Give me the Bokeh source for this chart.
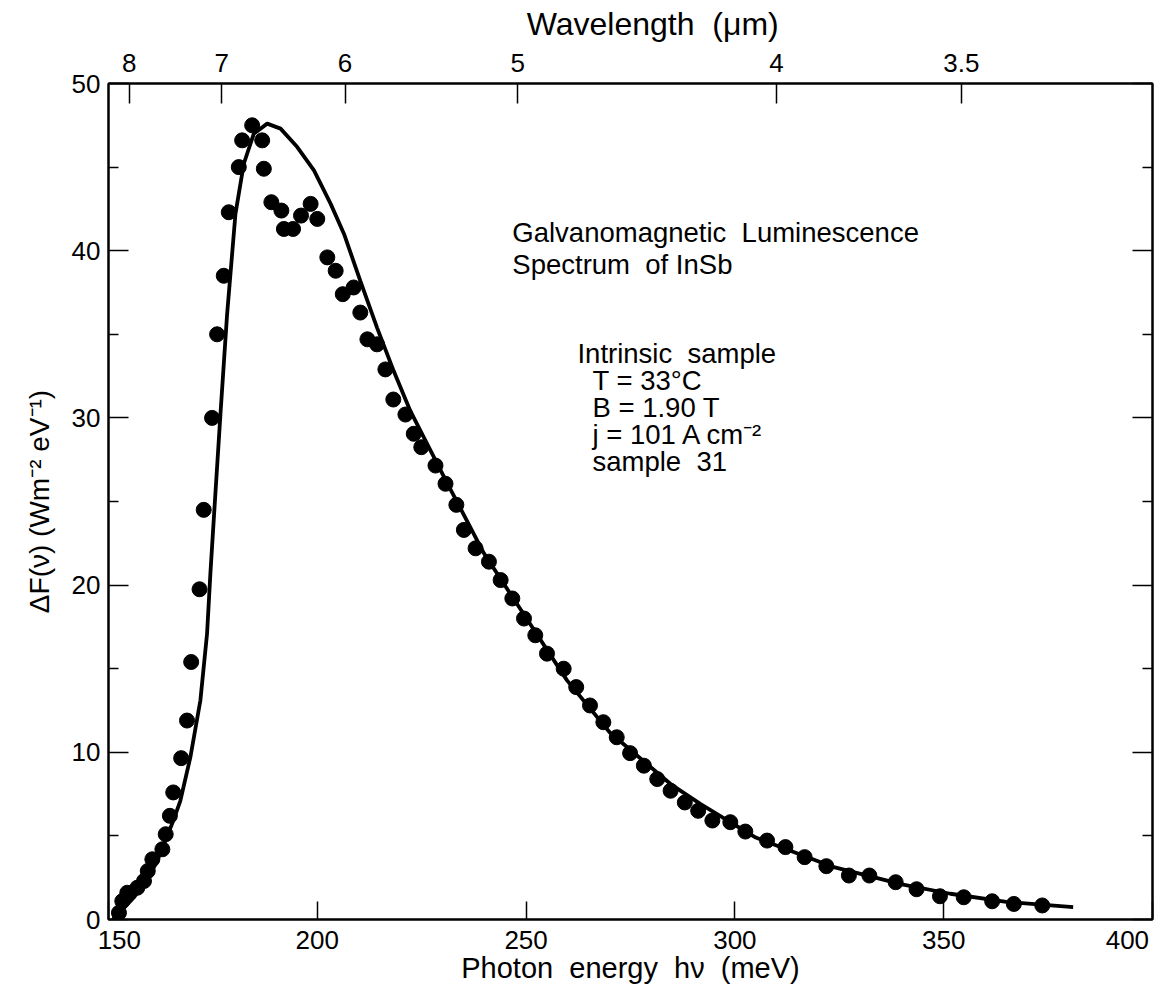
from bokeh.plotting import figure
from bokeh.models import (LinearAxis, FixedTicker, Label, CustomJSTickFormatter, Range1d)
from bokeh.embed import file_html
from bokeh.resources import INLINE

# ---------------- data ----------------
# measured points: photon energy (meV) and Delta F (W m^-2 eV^-1)
energy_pts = [152.5, 153.3, 154.5, 156.9, 158.5, 159.4, 160.5, 162.9, 163.7, 164.7,
              165.5, 167.4, 168.8, 169.8, 171.8, 172.8, 174.8, 176.0, 177.6, 178.8,
              181.2, 182.0, 184.4, 186.8, 187.2, 189.0, 191.4, 192.0, 194.2, 196.1,
              198.4, 200.0, 202.4, 204.4, 206.1, 208.7, 210.3, 212.0, 214.3, 216.3,
              218.2, 221.1, 223.1, 224.9, 228.3, 230.7, 233.3, 235.1, 237.9, 241.1,
              243.9, 246.7, 249.5, 252.2, 255.0, 259.0, 262.0, 265.3, 268.5, 271.7,
              274.9, 278.2, 281.4, 284.6, 288.0, 291.2, 294.6, 298.9, 302.5, 307.7,
              312.1, 316.7, 321.9, 327.3, 332.2, 338.5, 343.5, 349.1, 354.8, 361.6,
              366.8, 373.6]
flux_pts = [0.4, 1.1, 1.6, 1.9, 2.3, 2.9, 3.6, 4.2, 5.1, 6.2,
            7.6, 9.65, 11.9, 15.4, 19.75, 24.5, 30.0, 35.0, 38.5, 42.3,
            45.0, 46.6, 47.5, 46.6, 44.9, 42.9, 42.4, 41.3, 41.3, 42.1,
            42.8, 41.9, 39.6, 38.8, 37.4, 37.8, 36.3, 34.7, 34.4, 32.9,
            31.1, 30.2, 29.05, 28.25, 27.15, 26.06, 24.8, 23.3, 22.2, 21.4,
            20.3, 19.2, 18.0, 17.0, 15.9, 15.0, 13.9, 12.8, 11.8, 10.9,
            9.95, 9.2, 8.4, 7.7, 7.0, 6.5, 5.92, 5.82, 5.26, 4.72,
            4.33, 3.73, 3.19, 2.63, 2.63, 2.23, 1.81, 1.39, 1.33, 1.09,
            0.93, 0.84]

# theoretical curve
energy_fit = [151.0, 153.0, 156.0, 159.0, 161.5, 163.6, 165.5, 167.2, 169.6, 172.0,
              173.6, 174.4, 175.3, 176.8, 178.4, 180.4, 182.4, 184.8, 188.0, 191.2,
              195.2, 199.2, 203.2, 206.4, 210.3, 214.3, 218.3, 222.3, 230.7, 239.9,
              246.7, 259.8, 270.0, 284.6, 291.8, 305.0, 323.7, 340.0, 351.6, 365.0,
              381.0]
flux_fit = [0.0, 0.5, 1.3, 2.3, 3.4, 4.7, 5.9, 7.1, 9.7, 13.1,
            17.1, 20.7, 24.3, 30.2, 36.2, 42.2, 45.2, 47.0, 47.6, 47.3,
            46.2, 44.8, 42.8, 41.0, 38.2, 35.4, 32.8, 30.4, 26.3, 21.9,
            19.3, 14.3, 11.2, 8.1, 6.9, 4.9, 3.13, 2.1, 1.54, 1.05,
            0.74]

x_ticks = [150, 200, 250, 300, 350, 400]
y_major = [0, 10, 20, 30, 40, 50]
y_minor = [5, 15, 25, 35, 45]
wavelength_ticks = [8, 7, 6, 5, 4, 3.5]      # micrometres
wavelength_labels = ["8", "7", "6", "5", "4", "3.5"]
HC = 1239.84  # meV * um

NB = "\u00a0"  # non-collapsing space: keeps the wide word spacing of the original
annotation_lines = ["Galvanomagnetic" + NB + " Luminescence", "Spectrum" + NB + " of InSb"]
condition_lines = ["Intrinsic" + NB + " sample", "T = 33°C", "B = 1.90 T",
                   "j = 101 A cm\u207b\u00b2", "sample" + NB + " 31"]

FONT = "Liberation Sans"
TICK_SIZE = "26px"

# ---------------- figure ----------------
p = figure(width=1163, height=991, output_backend="svg", toolbar_location=None,
           x_range=Range1d(150, 400), y_range=Range1d(0, 50),
           min_border_left=108, min_border_right=11, min_border_top=83, min_border_bottom=72,
           background_fill_color="white", border_fill_color="white")
p.grid.visible = False
p.outline_line_color = "black"
p.outline_line_width = 2

# bottom axis; the end labels are padded so they sit inside the frame as in the original
xa = p.xaxis[0]
xa.ticker = FixedTicker(ticks=x_ticks)
xa.major_label_overrides = {150: NB * 3 + "150", 400: "400" + NB * 2}
xa.major_tick_in = 18
xa.major_tick_out = 0
xa.minor_tick_line_color = None
xa.axis_line_width = 2
xa.major_tick_line_width = 1.5
xa.major_label_text_font = FONT
xa.major_label_text_font_size = TICK_SIZE
xa.major_label_text_color = "black"
xa.major_label_standoff = 5
xa.axis_label = "Photon" + NB + " energy" + NB + " h\u03bd" + NB + " (meV)"
xa.axis_label_text_font = FONT
xa.axis_label_text_font_style = "normal"
xa.axis_label_text_font_size = "29px"
xa.axis_label_text_color = "black"
xa.axis_label_standoff = -6

# left axis
ya = p.yaxis[0]
ya.ticker = FixedTicker(ticks=y_major, minor_ticks=y_minor)
ya.major_tick_in = 20
ya.major_tick_out = 0
ya.minor_tick_in = 10
ya.minor_tick_out = 0
ya.axis_line_width = 2
ya.major_tick_line_width = 1.5
ya.minor_tick_line_width = 1.5
ya.major_label_text_font = FONT
ya.major_label_text_font_size = TICK_SIZE
ya.major_label_text_color = "black"
ya.major_label_standoff = 8
ya.axis_label = "\u0394F(\u03bd) (Wm\u207b\u00b2 eV\u207b\u00b9)"
ya.axis_label_text_font = FONT
ya.axis_label_text_font_style = "normal"
ya.axis_label_text_font_size = "28px"
ya.axis_label_text_color = "black"
ya.axis_label_standoff = 14

# right axis (ticks only)
ra = LinearAxis(ticker=FixedTicker(ticks=y_major, minor_ticks=y_minor),
                formatter=CustomJSTickFormatter(code="return ''"))
ra.major_tick_in = 20
ra.major_tick_out = 0
ra.minor_tick_in = 10
ra.minor_tick_out = 0
ra.axis_line_width = 2
ra.major_tick_line_width = 1.5
ra.minor_tick_line_width = 1.5
ra.major_label_text_font_size = "1px"
ra.major_label_standoff = 0
p.add_layout(ra, "right")

# top axis (wavelength)
wl_pos = [round(HC / w, 3) for w in wavelength_ticks]
ta = LinearAxis(ticker=FixedTicker(ticks=wl_pos))
ta.major_label_overrides = {pos: lab for pos, lab in zip(wl_pos, wavelength_labels)}
ta.major_tick_in = 20
ta.major_tick_out = 0
ta.minor_tick_line_color = None
ta.axis_line_width = 2
ta.major_tick_line_width = 1.5
ta.major_label_text_font = FONT
ta.major_label_text_font_size = TICK_SIZE
ta.major_label_text_color = "black"
ta.major_label_standoff = 12
ta.axis_label = NB * 5 + "Wavelength" + NB + " (\u03bcm)"
ta.axis_label_text_font = FONT
ta.axis_label_text_font_style = "normal"
ta.axis_label_text_font_size = "32px"
ta.axis_label_text_color = "black"
ta.axis_label_standoff = 9
p.add_layout(ta, "above")

# data
p.line(energy_fit, flux_fit, line_color="black", line_width=3.8)
p.scatter(energy_pts, flux_pts, size=15, color="black")

# annotations
for i, t in enumerate(annotation_lines):
    p.add_layout(Label(x=246.7, y=41.1 - i * 1.9, text=t, text_font=FONT,
                       text_font_size="27.5px", text_baseline="middle", text_color="black"))
for i, t in enumerate(condition_lines):
    xx = 262.3 if i == 0 else 265.9
    p.add_layout(Label(x=xx, y=33.85 - i * 1.61, text=t, text_font=FONT,
                       text_font_size="27.5px", text_baseline="middle", text_color="black"))

open("out.html", "w").write(file_html(p, INLINE))
